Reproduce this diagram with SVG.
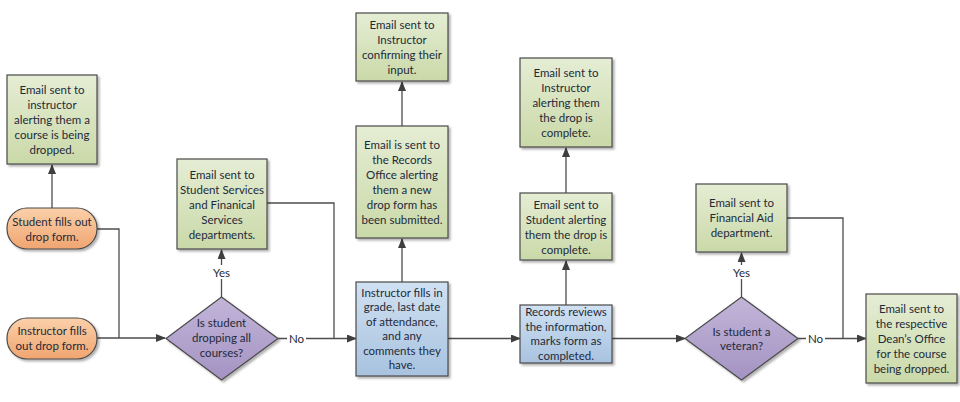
<svg xmlns="http://www.w3.org/2000/svg" width="960" height="402" viewBox="0 0 960 402">
<defs>
<linearGradient id="gG" x1="0" y1="0" x2="0" y2="1"><stop offset="0" stop-color="#e5edd4"/><stop offset="1" stop-color="#cad9a8"/></linearGradient>
<linearGradient id="gO" x1="0" y1="0" x2="0" y2="1"><stop offset="0" stop-color="#fbd0aa"/><stop offset="1" stop-color="#f0a570"/></linearGradient>
<linearGradient id="gP" x1="0" y1="0" x2="0" y2="1"><stop offset="0" stop-color="#c2b5d8"/><stop offset="1" stop-color="#a493c3"/></linearGradient>
<linearGradient id="gB" x1="0" y1="0" x2="0" y2="1"><stop offset="0" stop-color="#d0e1f2"/><stop offset="1" stop-color="#a8c2df"/></linearGradient>
<filter id="sh" x="-10%" y="-10%" width="130%" height="130%"><feDropShadow dx="2" dy="2" stdDeviation="1" flood-color="#000" flood-opacity="0.3"/></filter>
<marker id="ar" markerWidth="10" markerHeight="8" refX="9" refY="4" orient="auto" markerUnits="userSpaceOnUse"><path d="M0,0 L10,4 L0,8 Z" fill="#3f3f3f"/></marker>
<style>
.n{stroke:#4a4a4a;stroke-width:1.2;filter:url(#sh)}
.g{fill:url(#gG)}.o{fill:url(#gO)}.p{fill:url(#gP)}.b{fill:url(#gB)}
text{font-family:Lato,"Open Sans","Liberation Sans",sans-serif;font-size:11.5px;fill:#1e2a3a;text-anchor:middle}
.c{fill:none;stroke:#4d4d4d;stroke-width:1.3}
.a{marker-end:url(#ar)}
.lb{fill:#fff}
</style>
</defs>
<rect width="960" height="402" fill="#fff"/>
<g id="connectors">
<path class="c a" d="M52,208 V165"/>
<path class="c" d="M97,229 H119 V338"/>
<path class="c a" d="M97,338 H165"/>
<path class="c a" d="M221.5,297 V250"/>
<path class="c a" d="M278,338.5 H356"/>
<path class="c" d="M267,203 H334 V338.5"/>
<path class="c a" d="M402,282 V239"/>
<path class="c a" d="M402,126 V82"/>
<path class="c a" d="M448,338.5 H520"/>
<path class="c a" d="M566,305 V261"/>
<path class="c a" d="M566,193 V148"/>
<path class="c a" d="M612,338.5 H685"/>
<path class="c a" d="M741.5,297 V253"/>
<path class="c a" d="M798,338.5 H866"/>
<path class="c" d="M787,218 H843 V338.5"/>
<rect class="lb" x="210" y="265" width="23" height="14"/>
<text x="221.5" y="277">Yes</text>
<rect class="lb" x="287" y="332" width="19" height="14"/>
<text x="296.5" y="343">No</text>
<rect class="lb" x="730" y="265" width="23" height="14"/>
<text x="741.5" y="277">Yes</text>
<rect class="lb" x="806" y="332" width="19" height="14"/>
<text x="815.5" y="343">No</text>
</g>
<g id="e1"><rect class="n g" x="7" y="75" width="90" height="89"/>
<text x="52" y="93.5">Email sent to</text><text x="52" y="108.5">instructor</text><text x="52" y="123.5">alerting them a</text><text x="52" y="138.5">course is being</text><text x="52" y="153.5">dropped.</text></g>
<g id="s1"><rect class="n o" x="7" y="208" width="90" height="41" rx="20" ry="20"/>
<text x="52" y="225.5">Student fills out</text><text x="52" y="240.5">drop form.</text></g>
<g id="i1"><rect class="n o" x="7" y="318" width="90" height="41" rx="20" ry="20"/>
<text x="52" y="335">Instructor fills</text><text x="52" y="350">out drop form.</text></g>
<g id="d1"><path class="n p" d="M221.5,297 L278,338.5 L221.5,380 L166,338.5 Z"/>
<text x="221.5" y="327">Is student</text><text x="221.5" y="342">dropping all</text><text x="221.5" y="357">courses?</text></g>
<g id="e2"><rect class="n g" x="177" y="159" width="90" height="90"/>
<text x="222" y="179">Email sent to</text><text x="222" y="194">Student Services</text><text x="222" y="209">and Finanical</text><text x="222" y="224">Services</text><text x="222" y="239">departments.</text></g>
<g id="e3"><rect class="n g" x="356" y="13" width="92" height="68"/>
<text x="402" y="29">Email sent to</text><text x="402" y="44">Instructor</text><text x="402" y="59">confirming their</text><text x="402" y="74">input.</text></g>
<g id="e4"><rect class="n g" x="356" y="126" width="92" height="112"/>
<text x="402" y="148.5">Email is sent to</text><text x="402" y="163.5">the Records</text><text x="402" y="178.5">Office alerting</text><text x="402" y="193.5">them a new</text><text x="402" y="208.5">drop form has</text><text x="402" y="223.5">been submitted.</text></g>
<g id="b1"><rect class="n b" x="356" y="282" width="92" height="94"/>
<text x="402" y="296.5">Instructor fills in</text><text x="402" y="311">grade, last date</text><text x="402" y="325.5">of attendance,</text><text x="402" y="340">and any</text><text x="402" y="354.5">comments they</text><text x="402" y="369">have.</text></g>
<g id="e5"><rect class="n g" x="520" y="58" width="92" height="89"/>
<text x="566" y="76.5">Email sent to</text><text x="566" y="91.5">Instructor</text><text x="566" y="106.5">alerting them</text><text x="566" y="121.5">the drop is</text><text x="566" y="136.5">complete.</text></g>
<g id="e6"><rect class="n g" x="520" y="193" width="92" height="67"/>
<text x="566" y="208.5">Email sent to</text><text x="566" y="223.5">Student alerting</text><text x="566" y="238.5">them the drop is</text><text x="566" y="253.5">complete.</text></g>
<g id="b2"><rect class="n b" x="520" y="305" width="92" height="58"/>
<text x="566" y="316">Records reviews</text><text x="566" y="330.5">the information,</text><text x="566" y="345">marks form as</text><text x="566" y="359.5">completed.</text></g>
<g id="d2"><path class="n p" d="M741.5,297 L798,338.5 L741.5,380 L685,338.5 Z"/>
<text x="741.5" y="335.5">Is student a</text><text x="741.5" y="350">veteran?</text></g>
<g id="e7"><rect class="n g" x="696" y="184" width="91" height="68"/>
<text x="741.5" y="207">Email sent to</text><text x="741.5" y="222">Financial Aid</text><text x="741.5" y="237">department.</text></g>
<g id="e8"><rect class="n g" x="866" y="294" width="91" height="89"/>
<text x="911.5" y="312.5">Email sent to</text><text x="911.5" y="327.5">the respective</text><text x="911.5" y="342.5">Dean’s Office</text><text x="911.5" y="357.5">for the course</text><text x="911.5" y="372.5">being dropped.</text></g>
</svg>
